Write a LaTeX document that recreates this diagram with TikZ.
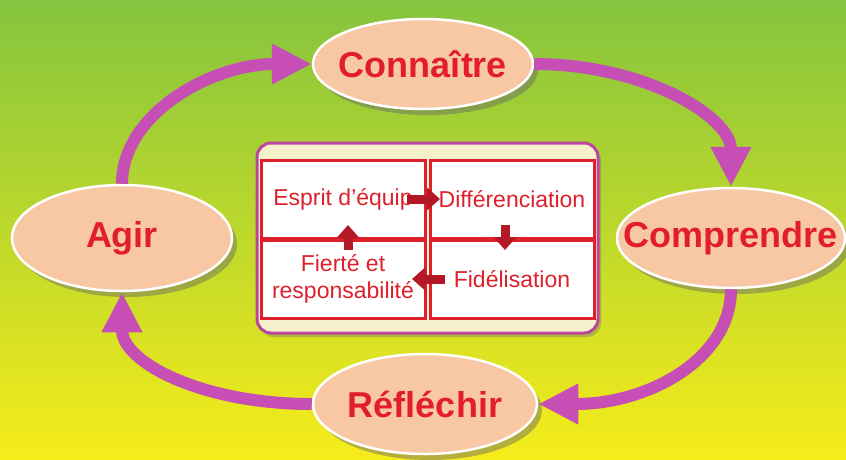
\documentclass[tikz,border=0pt]{standalone}
\usepackage{fontspec}
\setmainfont{Liberation Sans}
\usetikzlibrary{arrows.meta,shadows,shapes.geometric,calc}
\definecolor{peach}{RGB}{248,200,164}
\definecolor{titlered}{RGB}{226,30,40}
\definecolor{cycmag}{RGB}{198,78,180}
\definecolor{cellred}{RGB}{222,32,44}
\definecolor{blkred}{RGB}{180,24,38}
\definecolor{boardedge}{RGB}{186,70,160}
\definecolor{cream}{RGB}{247,240,204}
\definecolor{bgtop}{RGB}{132,196,62}
\definecolor{bgmid}{RGB}{182,214,46}
\definecolor{bgbot}{RGB}{246,236,26}
\begin{document}
\begin{tikzpicture}[x=1pt,y=-1pt,
  bubble/.style={ellipse, draw=white, line width=2.5pt, fill=peach, inner sep=0pt,
    drop shadow={shadow xshift=5pt,shadow yshift=-6pt,opacity=0.45,fill=black!60}},
  bigtext/.style={text=titlered, font=\fontsize{36}{40}\selectfont\bfseries},
  cyc/.style={draw=cycmag, line width=12pt, -{Triangle[width=38pt,length=40pt]}},
  board/.style={draw=boardedge, line width=3pt, fill=cream, rounded corners=14pt,
    minimum width=341pt, minimum height=190pt, inner sep=0pt,
    drop shadow={shadow xshift=3pt,shadow yshift=-4pt,opacity=0.35,fill=black!60}},
  cell/.style={draw=cellred, line width=3pt, fill=white, minimum width=164pt,
    minimum height=78pt, inner sep=0pt, text=cellred,
    font=\fontsize{23}{27}\selectfont, align=center},
  blk/.style={draw=blkred, line width=9pt, -{Triangle[width=22pt,length=13pt]}}]
\useasboundingbox (0,0) rectangle (846,459);
\shade[top color=bgtop, middle color=bgmid, bottom color=bgbot] (0,0) rectangle (846,459);

% ellipses
\node[bubble, minimum width=220pt, minimum height=90pt,
  label={[bigtext]center:Connaître}] (conn) at (423,64) {};
\node[bubble, minimum width=220pt, minimum height=106pt,
  label={[bigtext]center:Agir}] (agir) at (122,238) {};
\node[bubble, minimum width=228pt, minimum height=100pt,
  label={[bigtext]center:Comprendre}] (comp) at (731,238) {};
\node[bubble, minimum width=224pt, minimum height=100pt,
  label={[bigtext]center:Réfléchir}] (refl) at (425,404) {};

% cycle arrows
\draw[cyc] (agir.north) .. controls ($(agir.north)+(0,-70)$) and ($(conn.west)+(-100,0)$) .. (conn.west);
\draw[cyc] (conn.east) .. controls ($(conn.east)+(110,0)$) and ($(comp.north)+(0,-70)$) .. (comp.north);
\draw[cyc] (comp.south) .. controls ($(comp.south)+(0,70)$) and ($(refl.east)+(110,0)$) .. (refl.east);
\draw[cyc] (refl.west) .. controls ($(refl.west)+(-110,0)$) and ($(agir.south)+(0,70)$) .. (agir.south);

% central board
\node[board] (board) at (427.5,238) {};
\node[cell] (c1) at (343,199) {Esprit d’équip};
\node[cell] (c2) at (512,199) {Différenciation};
\node[cell] (c3) at (343,279) {Fierté et\\responsabilité};
\node[cell] (c4) at (512,279) {Fidélisation};

% small block arrows
\draw[blk, shorten <=64pt, shorten >=72pt] (c1.center) -- (c2.center);
\draw[blk, shorten <=26pt, shorten >=29pt] ([xshift=-7pt]c2.center) -- ([xshift=-7pt]c4.center);
\draw[blk, shorten <=67pt, shorten >=69pt] (c4.center) -- (c3.center);
\draw[blk, shorten <=29pt, shorten >=26pt] ([xshift=5pt]c3.center) -- ([xshift=5pt]c1.center);
\end{tikzpicture}
\end{document}
